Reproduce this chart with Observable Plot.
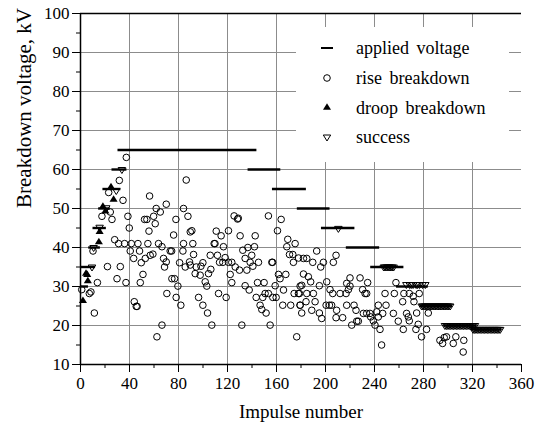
<!DOCTYPE html>
<html>
<head>
<meta charset="utf-8">
<script src="https://cdn.jsdelivr.net/npm/d3@7"></script>
<script src="https://cdn.jsdelivr.net/npm/@observablehq/plot@0.6"></script>
<style>
  html, body { margin: 0; padding: 0; background: #fff; }
  #wrap { position: relative; width: 544px; height: 429px; font-family: 'Liberation Serif', 'Times New Roman', serif; }
  #wrap svg, #wrap svg text { font-family: 'Liberation Serif', 'Times New Roman', serif !important; }
  #legend { position: absolute; left: 0; top: 0; pointer-events: none; }
</style>
</head>
<body>
<div id="wrap"></div>
<script>
// ---------- data ----------
const xTicks = [0, 40, 80, 120, 160, 200, 240, 280, 320, 360];
const yTicks = [10, 20, 30, 40, 50, 60, 70, 80, 90, 100];

// applied voltage steps: level (kV), first impulse, last impulse
const appliedLevel = [30, 35, 40, 45, 50, 55, 60, 65, 60, 55, 50, 45, 40, 35, 30, 25, 20, 19];
const appliedStart = [0, 0, 6.7, 10.2, 14.8, 18.3, 25.7, 30.6, 136.8, 156.7, 177, 196.7, 217, 236.9, 258, 277, 296.6, 319];
const appliedEnd   = [6.5, 12.3, 16.2, 21.1, 24.3, 33, 37.9, 144, 163.5, 184.4, 203.7, 224, 244.2, 264, 283.9, 303.7, 323.3, 343.7];

// rise breakdown
const riseX = [1.0,7.2,8.5,11.3,10.2,13.8,22,23,24.3,25.7,17.5,27.9,31.1,36,41.5,46.9,55,31.7,34.7,37.4,38.7,39.8,
  32.5,29.8,37.1,40.6,43.4,48.2,52.9,49.6,51,48.8,43.9,45.5,46.2,
  56.9,59.1,56.4,70,61.8,65.1,52.3,54.2,59.7,61,55.9,77.9,76,63.7,66.5,73.2,74.4,83.6,67.8,70,68.6,80.9,85.5,89,74.6,76.8,79.5,70.5,78.1,81.9,66.5,62.4,
  86.3,84.1,87.7,89.6,84.1,
  90.9,91.7,92.3,89.6,94.5,98.3,99.9,93.6,97.7,101.8,103.1,104.5,106.4,105.9,110.8,109.1,109.8,114.8,116.7,120.8,111.8,113.5,116.2,118.1,120.8,123.5,122.2,123.5,112.7,118.9,107.2,
  125.4,128.2,128.8,130.3,132.5,126.3,129.8,134.4,136.6,139.8,142,142.6,135.8,138.5,140.7,145.3,134.4,137.7,131.7,144.5,149.9,143.4,148.8,150.7,153.4,146.6,148,151.5,154.8,
  153.4,163.8,160.8,156.2,156.8,161.6,158.9,157,159.7,162.9,167.6,165.7,165.1,171.6,169.2,168.4,175.2,170.6,173.3,173.8,174.4,177.9,176.5,179.3,179.3,96.4,99.9,103.7,
  178,182,184.7,182,186,187.9,189.6,192.8,196.1,198.3,180.6,178.7,184.7,190.1,195,179.2,184.1,188.8,180.6,191.5,195,196.9,200.5,203.2,205,201,203.7,205.9,206.4,208.6,
  209.1,208.6,211.9,214,217.3,216.8,218.7,220,220,217.3,221.4,223.3,224.9,225.5,226.8,228.2,230.3,232.3,233.6,234.4,230.9,233.6,236.3,236.9,239,240.4,241.8,243.1,243.1,
  244.5,245.8,246.7,248.6,249.4,255.4,256.2,259.4,263.5,263,266.2,267.6,257.5,264,
  268.4,271.6,276.5,272.2,274.4,268.4,273.8,275.7,278.4,282.5,283.9,293.4,295.6,296.9,298.8,304.3,306.4,312.9,312.4];
const riseY = [29.2,28.2,28.6,23.2,39.1,31.0,35.1,54.1,49.1,47.2,48.0,42.0,41.0,41.0,41.0,41.0,41.0,57.2,52.1,63.1,48.0,45.0,
  35.1,32.0,31.0,39.1,37.2,39.1,37.2,36.1,33.1,31.0,26.1,24.9,24.9,
  38.0,38.3,53.2,51.1,50.0,49.1,47.2,47.2,48.0,46.1,44.2,47.2,43.2,41.0,40.2,39.1,39.1,39.1,37.2,36.3,35.0,36.1,35.0,36.3,32.0,32.0,30.1,28.2,27.2,25.2,20.1,17.1,
  57.3,50.0,48.0,44.0,41.0,
  44.3,41.0,38.2,35.5,35.0,35.2,36.1,33.3,32.9,31.2,30.1,33.3,34.4,38.0,44.2,41.0,41.0,43.0,40.2,44.3,38.0,36.2,36.2,37.4,36.2,36.2,33.1,31.0,28.2,27.2,20.1,
  48.1,47.3,47.5,43.0,39.3,35.0,34.2,37.2,40.0,38.0,40.2,43.0,34.2,36.2,35.2,36.2,30.2,29.1,20.1,31.0,31.0,27.2,27.2,28.2,28.2,25.2,24.1,23.2,20.1,
  48.1,47.2,44.3,36.2,36.2,33.1,30.2,27.2,27.2,32.0,33.1,29.1,25.2,25.2,42.1,40.2,41.0,38.2,38.2,36.2,28.2,28.2,17.1,30.1,25.2,27.2,25.2,23.2,
  37.3,37.2,37.2,33.2,32.5,31.2,36.2,39.1,35.0,36.2,30.3,28.2,28.2,28.2,30.2,25.2,26.1,23.9,23.2,26.1,23.2,21.8,25.2,25.2,25.2,31.2,29.2,28.2,36.2,38.0,
  23.9,22.0,28.2,22.0,25.2,28.2,29.2,30.1,32.2,30.8,20.1,25.2,23.9,21.1,21.1,32.2,29.2,28.2,28.2,31.0,23.1,23.1,23.1,22.2,21.2,20.1,23.5,25.2,22.2,
  19.0,15.0,23.1,28.2,25.2,23.1,28.2,21.1,19.0,26.1,23.1,22.2,31.0,28.2,
  28.2,27.5,28.2,26.1,23.2,21.2,19.0,20.3,17.1,19.0,23.2,16.2,15.4,16.9,17.1,15.4,17.1,16.2,13.2];

// droop breakdown
const droopX = [2, 4.5, 5.5, 6, 15, 15.6, 18.3, 20.3, 24.9, 27];
const droopY = [26.3, 33.3, 33, 31.4, 41.4, 44, 50.5, 49.3, 55.5, 52.3];

// success
const successX = [9.4, 10.7, 15.6, 21, 29.2, 33.8, 210.5,
  247.5, 248.6, 249.8, 251, 252.1, 253.3, 254.4, 255.6,
  266, 268.7, 270, 271.5, 274, 275.2, 276.8, 279.2, 281.5,
  278.5, 279.6, 280.8, 282, 283.1, 284.3, 285.5, 286.6, 287.8, 289, 290.1, 291.3, 292.5, 293.6, 294.8, 296, 297.1, 298.3, 299.5, 300.6, 301.8,
  297.5, 298.7, 299.9, 301, 302.2, 303.4, 304.5, 305.7, 306.9, 308, 309.2, 310.4, 311.5, 312.7, 313.9, 315, 316.2, 317.4, 318.5, 319.7, 320.9, 322,
  320.5, 321.7, 322.8, 324, 325.2, 326.3, 327.5, 328.7, 329.8, 331, 332.2, 333.3, 334.5, 335.7, 336.8, 338, 339.2, 340.3, 341.5, 342.6];
const successY = [35, 40, 45.2, 50.2, 54.6, 60, 44.9,
  35, 35, 35, 35, 35, 35, 35, 35,
  30.5, 30.5, 30.5, 30.5, 30.5, 30.5, 30.5, 30.5, 30.5,
  25, 25, 25, 25, 25, 25, 25, 25, 25, 25, 25, 25, 25, 25, 25, 25, 25, 25, 25, 25, 25,
  20, 20, 20, 20, 20, 20, 20, 20, 20, 20, 20, 20, 20, 20, 20, 20, 20, 20, 20, 20, 20, 20,
  19, 19, 19, 19, 19, 19, 19, 19, 19, 19, 19, 19, 19, 19, 19, 19, 19, 19, 19, 19];

const legendLabels = ["applied voltage", "rise breakdown", "droop breakdown", "success"];

// ---------- tables ----------
const applied = appliedLevel.map((v, i) => ({level: v, start: appliedStart[i], end: appliedEnd[i]}));
const rise = riseX.map((x, i) => ({x, y: riseY[i]}));
const droop = droopX.map((x, i) => ({x, y: droopY[i]}));
const success = successX.map((x, i) => ({x, y: successY[i]}));

// symbols
const triUp = {
  draw(ctx, size) {
    const r = Math.sqrt(size / Math.PI);
    const w = r * 1.35, h = w * 1.6;
    ctx.moveTo(0, -2 * h / 3);
    ctx.lineTo(w, h / 3);
    ctx.lineTo(-w, h / 3);
    ctx.closePath();
  }
};
const triDown = {
  draw(ctx, size) {
    const r = Math.sqrt(size / Math.PI);
    const w = r * 1.25, h = w * 1.6;
    ctx.moveTo(0, 2 * h / 3);
    ctx.lineTo(w, -h / 3);
    ctx.lineTo(-w, -h / 3);
    ctx.closePath();
  }
};

const font = "'Liberation Serif', 'Times New Roman', serif";
const gridColor = "#8c8c8c";

const chart = Plot.plot({
  width: 544,
  height: 429,
  marginLeft: 80,
  marginRight: 23,
  marginTop: 13,
  marginBottom: 65,
  style: {fontFamily: font, fontSize: "17px", background: "white", color: "black"},
  x: {domain: [0, 360]},
  y: {domain: [10, 100]},
  marks: [
    Plot.gridX(xTicks.filter(d => d > 0 && d < 360), {stroke: gridColor, strokeOpacity: 1, strokeWidth: 1}),
    Plot.gridY(yTicks.filter(d => d > 10 && d < 100), {stroke: gridColor, strokeOpacity: 1, strokeWidth: 1}),
    Plot.axisX(xTicks, {tickSize: 8, tickPadding: 4, fontSize: 17, label: null}),
    Plot.axisX(xTicks.slice(0, -1).map(d => d + 20), {tickSize: 4, tickFormat: () => "", label: null}),
    Plot.axisY(yTicks, {tickSize: 8, tickPadding: 3, fontSize: 17, label: null}),
    Plot.axisY(yTicks.slice(0, -1).map(d => d + 5), {tickSize: 4, tickFormat: () => "", label: null}),
    Plot.ruleY(applied, {y: "level", x1: "start", x2: "end", stroke: "black", strokeWidth: 2.4}),
    Plot.dot(rise, {x: "x", y: "y", r: 3.3, stroke: "black", fill: "none", strokeWidth: 1}),
    Plot.dot(droop, {x: "x", y: "y", r: 3, symbol: triUp, fill: "black", stroke: "none"}),
    Plot.dot(success, {x: "x", y: "y", r: 3, symbol: triDown, fill: "none", stroke: "black", strokeWidth: 1}),
    Plot.ruleX([0], {stroke: "black", strokeWidth: 1.5}),
    Plot.ruleY([10], {stroke: "black", strokeWidth: 1.5}),
    Plot.ruleY([100], {stroke: "black", strokeWidth: 1.5}),
    Plot.text(["Impulse number"], {text: d => d, frameAnchor: "bottom", dy: 53, fontSize: 19}),
    Plot.text(["Breakdown voltage, kV"], {text: d => d, frameAnchor: "left", rotate: -90, dx: -56, dy: 19, fontSize: 21})
  ]
});

const wrap = document.getElementById("wrap");
wrap.appendChild(chart);

// ---------- legend (inside the plot, top right) ----------
const ns = "http://www.w3.org/2000/svg";
const lg = document.createElementNS(ns, "svg");
lg.setAttribute("id", "legend");
lg.setAttribute("width", 544);
lg.setAttribute("height", 429);
const box = document.createElementNS(ns, "rect");
box.setAttribute("x", 296); box.setAttribute("y", 27);
box.setAttribute("width", 213); box.setAttribute("height", 135);
box.setAttribute("fill", "white");
lg.appendChild(box);
const rowY = [48, 78, 107.5, 137];
const mx = 327;
const markers = [
  `<line x1="${mx-6}" x2="${mx+6}" y1="${rowY[0]}" y2="${rowY[0]}" stroke="black" stroke-width="2"/>`,
  `<circle cx="${mx}" cy="${rowY[1]}" r="3.3" fill="none" stroke="black" stroke-width="1"/>`,
  `<path d="M${mx},${rowY[2]-4.3}L${mx+4},${rowY[2]+2.2}L${mx-4},${rowY[2]+2.2}Z" fill="black"/>`,
  `<path d="M${mx},${rowY[3]+4}L${mx+3.7},${rowY[3]-2}L${mx-3.7},${rowY[3]-2}Z" fill="none" stroke="black" stroke-width="1"/>`
];
let inner = markers.join("");
legendLabels.forEach((t, i) => {
  inner += `<text x="356" y="${rowY[i] + 6}" font-size="18" word-spacing="3" fill="black">${t}</text>`;
});
lg.insertAdjacentHTML("beforeend", inner);
wrap.appendChild(lg);
</script>
</body>
</html>
